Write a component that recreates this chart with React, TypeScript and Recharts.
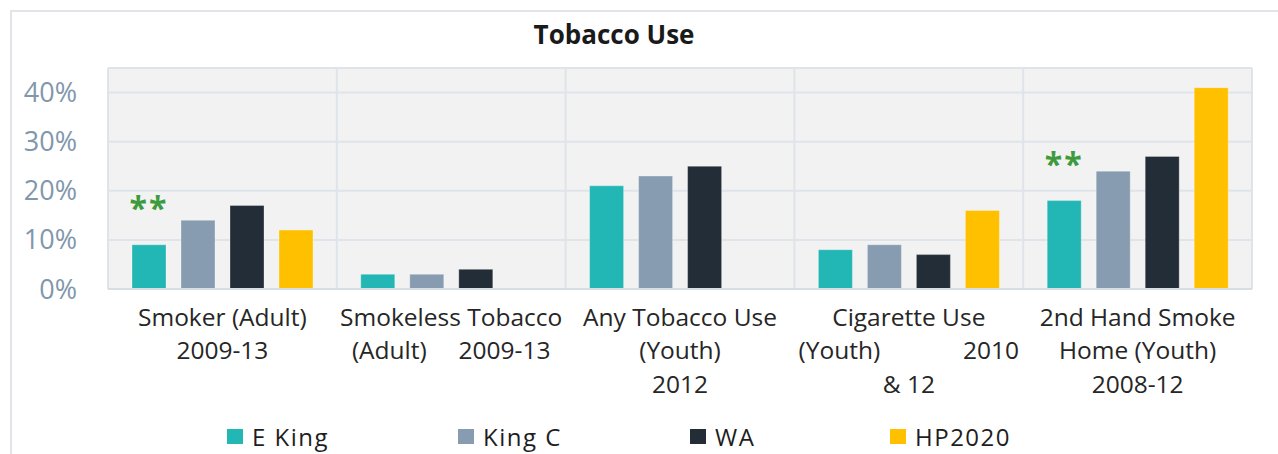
import { BarChart, Bar, XAxis, YAxis, CartesianGrid, Legend, LabelList } from "recharts";

// Category labels; "\n" breaks lines, runs of spaces are kept as drawn.
const categories = [
  "Smoker (Adult)\n2009-13",
  "Smokeless Tobacco\n(Adult)     2009-13",
  "Any Tobacco Use\n(Youth)\n2012",
  "Cigarette Use\n(Youth)             2010\n& 12",
  "2nd Hand Smoke\nHome (Youth)\n2008-12",
];

const eKing = [9, 3, 21, 8, 18];
const kingC = [14, 3, 23, 9, 24];
const wa = [17, 4, 25, 7, 27];
const hp2020: (number | null)[] = [12, null, null, 16, 41];
const eKingNotes = ["**", "", "", "", "**"];

const yTicks = [0, 10, 20, 30, 40];

const SERIES = [
  { key: "eKing", name: "E King", color: "#22b6b4" },
  { key: "kingC", name: "King C", color: "#879cb0" },
  { key: "wa", name: "WA", color: "#232d37" },
  { key: "hp2020", name: "HP2020", color: "#ffc000" },
];

const FONT = "'Open Sans', sans-serif";
const LEGEND_ITEM_WIDTHS = [231, 232, 200, 140];

const rows = categories.map((name, i) => ({
  name,
  eKing: eKing[i],
  kingC: kingC[i],
  wa: wa[i],
  hp2020: hp2020[i],
  note: eKingNotes[i],
}));

const CategoryTick = (props: any) => {
  const { x, y, payload } = props;
  const lines = String(payload.value).split("\n");
  return (
    <text
      x={x}
      y={y}
      textAnchor="middle"
      fill="#262626"
      fontSize={24.5}
      fontFamily={FONT}
      xmlSpace="preserve"
      style={{ whiteSpace: "pre" }}
    >
      {lines.map((line, i) => (
        <tspan key={i} x={x} dy={i === 0 ? 29 : 33.3}>
          {line}
        </tspan>
      ))}
    </text>
  );
};

const NoteLabel = (props: any) => {
  const { x, y, width, value } = props;
  if (!value) return null;
  return (
    <text
      x={x + width / 2}
      y={y - 25}
      textAnchor="middle"
      fill="#3d9b3d"
      fontSize={32}
      fontWeight={700}
      letterSpacing={2}
      fontFamily={FONT}
    >
      {value}
    </text>
  );
};

// Legend entries kept in series order rather than sorted by name.
const LegendRow = ({ payload }: any) => {
  const items = SERIES.map((s) => (payload || []).find((p: any) => p.value === s.name)).filter(Boolean);
  return (
    <div
      style={{
        display: "flex",
        alignItems: "center",
        height: 36,
        paddingLeft: 227,
        fontFamily: FONT,
        fontSize: 24,
        color: "#1e1e1e",
      }}
    >
      {items.map((p: any, i: number) => (
        <div key={p.value} style={{ display: "flex", alignItems: "center", width: LEGEND_ITEM_WIDTHS[i] }}>
          <span style={{ width: 16, height: 15, background: p.color, marginRight: 9, display: "inline-block" }} />
          <span style={{ letterSpacing: 1.5 }}>{p.value}</span>
        </div>
      ))}
    </div>
  );
};

export default function App() {
  return (
    <div
      style={{
        position: "absolute",
        left: 0,
        top: 0,
        width: 1278,
        height: 454,
        background: "#ffffff",
        overflow: "hidden",
      }}
    >
      <div
        style={{
          position: "absolute",
          left: 10,
          top: 10,
          width: 1300,
          height: 480,
          borderTop: "2px solid #e1e5ea",
          borderLeft: "2px solid #e1e5ea",
        }}
      />
      <div
        style={{
          position: "absolute",
          left: 0,
          top: 16,
          width: 1228,
          textAlign: "center",
          fontFamily: FONT,
          fontWeight: 700,
          fontSize: 26,
          color: "#1a1a1a",
        }}
      >
        Tobacco Use
      </div>
      <BarChart
        width={1278}
        height={454}
        data={rows}
        margin={{ top: 68, right: 26, bottom: 0, left: 0 }}
        barSize={34}
        barGap={15}
        style={{ position: "absolute", left: 0, top: 0, fontFamily: FONT }}
      >
        <CartesianGrid
          fill="#f2f2f2"
          stroke="#dfe4ea"
          strokeWidth={2}
          verticalCoordinatesGenerator={({ offset }: any) =>
            categories.map((_, i) => offset.left + (offset.width * i) / categories.length).concat(offset.left + offset.width)
          }
        />
        <XAxis
          dataKey="name"
          interval={0}
          height={129}
          tickLine={false}
          axisLine={{ stroke: "#d8dde3", strokeWidth: 2 }}
          tick={<CategoryTick />}
        />
        <YAxis
          width={108}
          domain={[0, 45]}
          ticks={yTicks}
          tickFormatter={(v) => `${v}%`}
          axisLine={false}
          tickLine={false}
          tickMargin={25}
          tick={{ fill: "#8197ab", fontSize: 27, fontFamily: FONT }}
        />
        <Legend verticalAlign="bottom" content={<LegendRow />} wrapperStyle={{ left: 0, width: 1278 }} />
        {SERIES.map((s) => (
          <Bar
            key={s.key}
            dataKey={s.key}
            name={s.name}
            fill={s.color}
            stroke="rgba(255,255,255,0.3)"
            strokeWidth={1}
            isAnimationActive={false}
          >
            {s.key === "eKing" && <LabelList dataKey="note" content={<NoteLabel />} />}
          </Bar>
        ))}
      </BarChart>
    </div>
  );
}
